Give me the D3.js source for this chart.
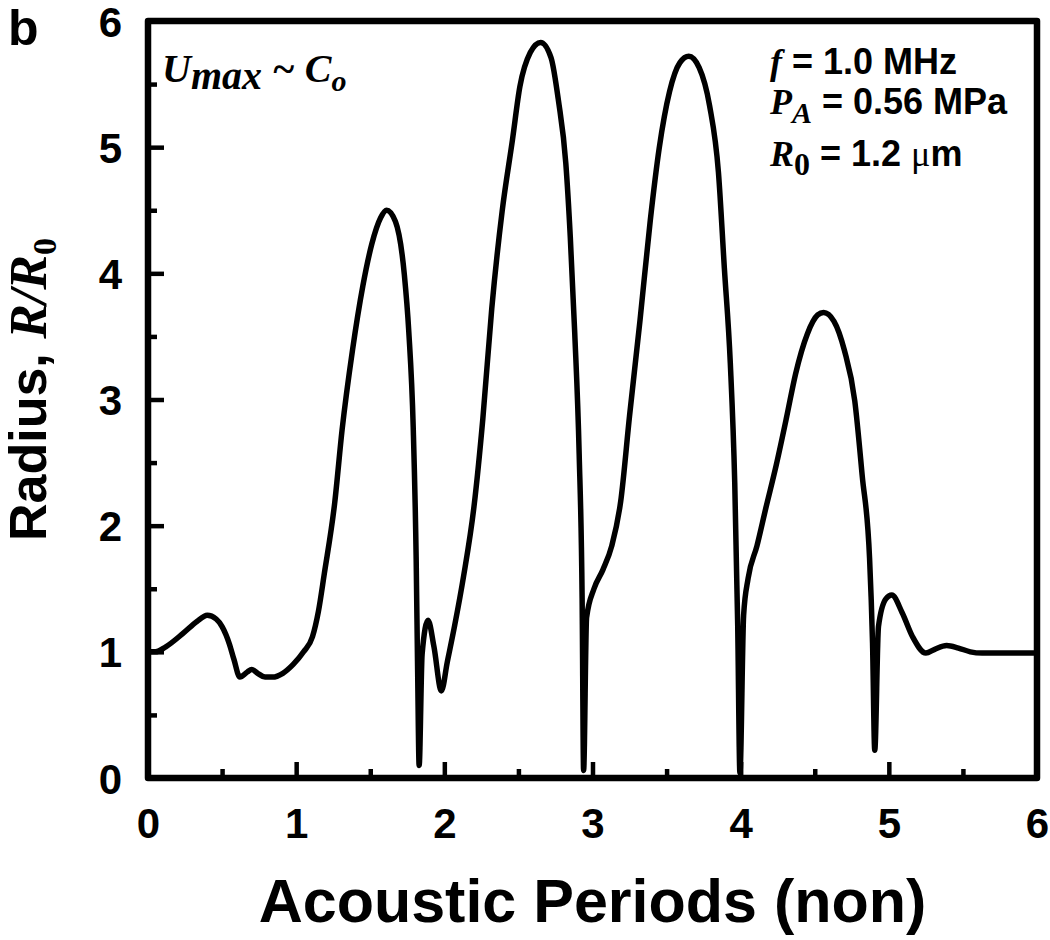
<!DOCTYPE html>
<html>
<head>
<meta charset="utf-8">
<script src="https://cdn.jsdelivr.net/npm/d3@7"></script>
<style>
  body { margin: 0; background: #fff; }
  svg text { fill: #000; }
</style>
</head>
<body>
<div class="radius-plot"></div>
<script>
// acoustic periods (x) and normalized radius R/R0 (y)
const periods = [0, 0.05, 0.12, 0.24, 0.33, 0.40, 0.46, 0.50, 0.55, 0.58, 0.62, 0.67, 0.70, 0.74, 0.79, 0.84,
  0.91, 0.98, 1.05, 1.11, 1.15, 1.19, 1.26, 1.31, 1.38, 1.45, 1.51, 1.57, 1.61, 1.67, 1.73, 1.76, 1.79, 1.81,
  1.82, 1.83, 1.85, 1.89, 1.93, 1.98, 2.02, 2.07, 2.13, 2.20, 2.26, 2.32, 2.39, 2.46, 2.51, 2.58, 2.65,
  2.72, 2.77, 2.82, 2.85, 2.88, 2.91, 2.93, 2.94, 2.96, 3.01, 3.07, 3.13, 3.19, 3.25, 3.32, 3.39, 3.45,
  3.52, 3.59, 3.65, 3.72, 3.79, 3.85, 3.89, 3.93, 3.96, 3.98, 3.995, 4.02, 4.05, 4.11, 4.17, 4.24, 4.31,
  4.37, 4.45, 4.52, 4.56, 4.63, 4.70, 4.77, 4.82, 4.87, 4.89, 4.905, 4.93, 4.98, 5.02, 5.09, 5.16, 5.25,
  5.31, 5.39, 5.47, 5.55, 5.63, 5.75, 6.0];
const radius = [1.0, 1.0, 1.04, 1.15, 1.24, 1.29, 1.26, 1.20, 1.06, 0.94, 0.80, 0.84, 0.86, 0.83, 0.80, 0.80,
  0.83, 0.90, 1.00, 1.12, 1.32, 1.62, 2.18, 2.76, 3.39, 3.90, 4.23, 4.44, 4.50, 4.41, 3.99, 3.54, 2.78, 1.73,
  0.83, 0.10, 0.98, 1.25, 1.04, 0.69, 0.92, 1.21, 1.60, 2.15, 2.85, 3.72, 4.49, 5.06, 5.48, 5.75, 5.83,
  5.71, 5.37, 4.87, 4.29, 3.53, 2.57, 1.42, 0.06, 1.27, 1.50, 1.65, 1.84, 2.19, 2.87, 3.62, 4.42, 4.99,
  5.44, 5.67, 5.72, 5.63, 5.33, 4.80, 4.04, 3.29, 2.34, 1.21, 0.04, 1.29, 1.58, 1.84, 2.14, 2.48, 2.86,
  3.20, 3.52, 3.67, 3.69, 3.62, 3.39, 2.99, 2.40, 1.74, 1.07, 0.22, 1.20, 1.42, 1.45, 1.31, 1.12, 0.99,
  1.02, 1.05, 1.03, 1.00, 0.99, 0.99, 0.99];

const xMajor = [0, 1, 2, 3, 4, 5, 6];
const xMinor = [0.5, 1.5, 2.5, 3.5, 4.5, 5.5];
const yMajor = [0, 1, 2, 3, 4, 5, 6];
const yMinor = [0.5, 1.5, 2.5, 3.5, 4.5, 5.5];

const data = periods.map((p, i) => ({ t: p, r: radius[i] }));

const width = 1050;
const height = 940;
const margin = { left: 148, right: 13, top: 21, bottom: 162 };

const svg = d3.select('.radius-plot')
    .append('svg')
    .attr('width', width)
    .attr('height', height);

const x = d3.scaleLinear().domain([0, 6]).range([margin.left, width - margin.right]);
const y = d3.scaleLinear().domain([0, 6]).range([height - margin.bottom, margin.top]);

const bold = 'Liberation Sans, Arial, sans-serif';
const serif = 'Liberation Serif, Times New Roman, serif';

// inward ticks, major + minor
function styleAxis(g) {
    g.select('.domain').remove();
    g.selectAll('line').attr('stroke', '#000').attr('stroke-width', 4.5);
    g.selectAll('text').attr('font-family', bold).attr('font-weight', 'bold').attr('font-size', 42).attr('fill', '#000');
}

svg.append('g')
    .attr('transform', `translate(0,${y(0)})`)
    .call(d3.axisBottom(x).tickValues(xMajor).tickFormat(d3.format('d')).tickSize(-16).tickPadding(30))
    .call(styleAxis);
svg.append('g')
    .attr('transform', `translate(0,${y(0)})`)
    .call(d3.axisBottom(x).tickValues(xMinor).tickFormat('').tickSize(-9))
    .call(styleAxis);
svg.append('g')
    .attr('transform', `translate(${x(0)},0)`)
    .call(d3.axisLeft(y).tickValues(yMajor).tickFormat(d3.format('d')).tickSize(-16).tickPadding(26))
    .call(styleAxis)
    .selectAll('text').attr('dy', '0.36em');
svg.append('g')
    .attr('transform', `translate(${x(0)},0)`)
    .call(d3.axisLeft(y).tickValues(yMinor).tickFormat('').tickSize(-9))
    .call(styleAxis);

// frame
svg.append('rect')
    .attr('x', x(0)).attr('y', y(6))
    .attr('width', x(6) - x(0)).attr('height', y(0) - y(6))
    .attr('fill', 'none')
    .attr('stroke', '#000')
    .attr('stroke-width', 6.5)
    .attr('stroke-linejoin', 'round');

// curve
const line = d3.line()
    .x(d => x(d.t))
    .y(d => y(d.r))
    .curve(d3.curveMonotoneX);

svg.append('path')
    .datum(data)
    .attr('d', line)
    .attr('fill', 'none')
    .attr('stroke', '#000')
    .attr('stroke-width', 5.5)
    .attr('stroke-linejoin', 'round')
    .attr('stroke-linecap', 'round');

// panel letter
svg.append('text')
    .attr('x', 8).attr('y', 45)
    .attr('font-family', bold).attr('font-weight', 'bold').attr('font-size', 50)
    .text('b');

// x title
svg.append('text')
    .attr('x', (x(0) + x(6)) / 2).attr('y', 922)
    .attr('text-anchor', 'middle')
    .attr('font-family', bold).attr('font-weight', 'bold').attr('font-size', 61)
    .text('Acoustic Periods (non)');

// y title
const yt = svg.append('text')
    .attr('transform', `translate(46,${(y(0) + y(6)) / 2 - 10}) rotate(-90)`)
    .attr('text-anchor', 'middle')
    .attr('font-weight', 'bold').attr('font-size', 52);
yt.append('tspan').attr('font-family', bold).text('Radius, ');
yt.append('tspan').attr('font-family', serif).attr('font-style', 'italic').text('R/R');
yt.append('tspan').attr('font-family', serif).attr('font-size', 34).attr('dy', 10).text('0');

// U_max ~ C_o
const ua = svg.append('text')
    .attr('x', 162).attr('y', 82)
    .attr('font-family', serif).attr('font-weight', 'bold').attr('font-style', 'italic').attr('font-size', 40);
ua.append('tspan').text('U');
ua.append('tspan').attr('dy', 7).text('max');
ua.append('tspan').attr('dy', -7).text(' ~ C');
ua.append('tspan').attr('dy', 9).attr('font-size', 30).text('o');

// parameters block
const p1 = svg.append('text').attr('x', 770).attr('y', 74).attr('font-weight', 'bold').attr('font-size', 36);
p1.append('tspan').attr('font-family', serif).attr('font-style', 'italic').text('f');
p1.append('tspan').attr('font-family', bold).text(' = 1.0 MHz');

const p2 = svg.append('text').attr('x', 770).attr('y', 114).attr('font-weight', 'bold').attr('font-size', 36);
p2.append('tspan').attr('font-family', serif).attr('font-style', 'italic').text('P');
p2.append('tspan').attr('font-family', serif).attr('font-style', 'italic').attr('font-size', 30).attr('dy', 9).text('A');
p2.append('tspan').attr('font-family', bold).attr('dy', -9).text(' = 0.56 MPa');

const p3 = svg.append('text').attr('x', 770).attr('y', 166).attr('font-weight', 'bold').attr('font-size', 36);
p3.append('tspan').attr('font-family', serif).attr('font-style', 'italic').text('R');
p3.append('tspan').attr('font-family', serif).attr('font-size', 32).attr('dy', 9).text('0');
p3.append('tspan').attr('font-family', bold).attr('dy', -9).text(' = 1.2 ');
p3.append('tspan').attr('font-family', serif).attr('font-weight', 'normal').text('\u03bc');
p3.append('tspan').attr('font-family', bold).text('m');
</script>
</body>
</html>
